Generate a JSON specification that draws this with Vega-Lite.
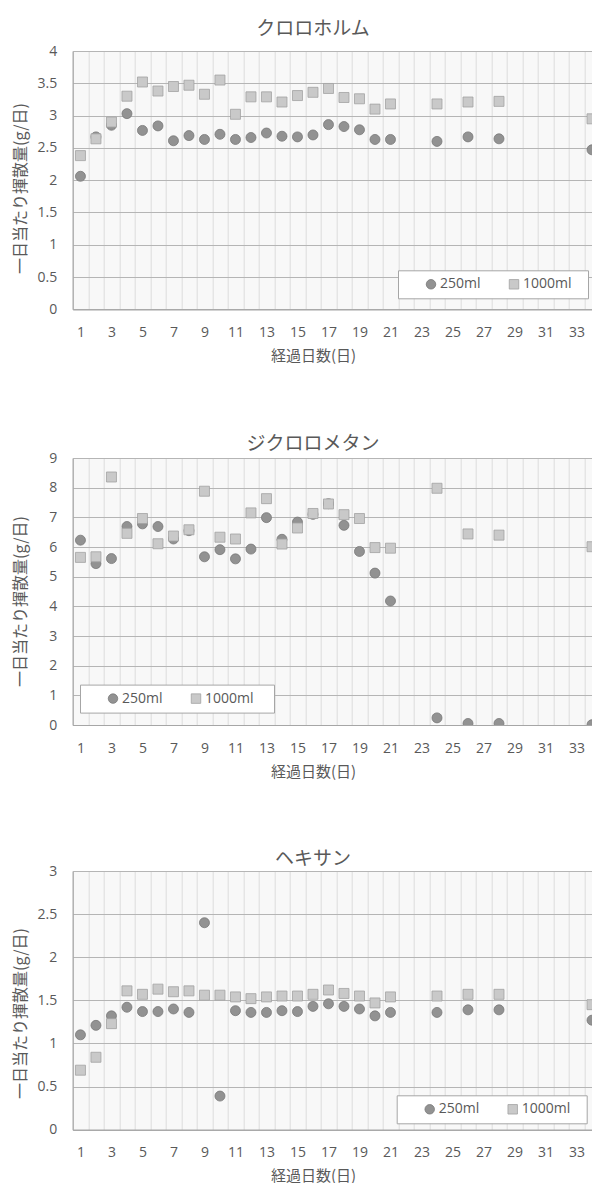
{
  "$schema": "https://vega.github.io/schema/vega-lite/v6.json",
  "background": "white",
  "padding": {"left": 12.7, "top": 20, "right": 0, "bottom": 0},
  "datasets": {
    "pts": [
      {"chem": "クロロホルム", "series": "250ml", "day": 1, "value": 2.06},
      {"chem": "クロロホルム", "series": "250ml", "day": 2, "value": 2.67},
      {"chem": "クロロホルム", "series": "250ml", "day": 3, "value": 2.85},
      {"chem": "クロロホルム", "series": "250ml", "day": 4, "value": 3.03},
      {"chem": "クロロホルム", "series": "250ml", "day": 5, "value": 2.77},
      {"chem": "クロロホルム", "series": "250ml", "day": 6, "value": 2.84},
      {"chem": "クロロホルム", "series": "250ml", "day": 7, "value": 2.61},
      {"chem": "クロロホルム", "series": "250ml", "day": 8, "value": 2.69},
      {"chem": "クロロホルム", "series": "250ml", "day": 9, "value": 2.63},
      {"chem": "クロロホルム", "series": "250ml", "day": 10, "value": 2.71},
      {"chem": "クロロホルム", "series": "250ml", "day": 11, "value": 2.63},
      {"chem": "クロロホルム", "series": "250ml", "day": 12, "value": 2.66},
      {"chem": "クロロホルム", "series": "250ml", "day": 13, "value": 2.73},
      {"chem": "クロロホルム", "series": "250ml", "day": 14, "value": 2.68},
      {"chem": "クロロホルム", "series": "250ml", "day": 15, "value": 2.67},
      {"chem": "クロロホルム", "series": "250ml", "day": 16, "value": 2.70},
      {"chem": "クロロホルム", "series": "250ml", "day": 17, "value": 2.86},
      {"chem": "クロロホルム", "series": "250ml", "day": 18, "value": 2.83},
      {"chem": "クロロホルム", "series": "250ml", "day": 19, "value": 2.78},
      {"chem": "クロロホルム", "series": "250ml", "day": 20, "value": 2.63},
      {"chem": "クロロホルム", "series": "250ml", "day": 21, "value": 2.63},
      {"chem": "クロロホルム", "series": "250ml", "day": 24, "value": 2.60},
      {"chem": "クロロホルム", "series": "250ml", "day": 26, "value": 2.67},
      {"chem": "クロロホルム", "series": "250ml", "day": 28, "value": 2.64},
      {"chem": "クロロホルム", "series": "250ml", "day": 34, "value": 2.47},
      {"chem": "クロロホルム", "series": "1000ml", "day": 1, "value": 2.38},
      {"chem": "クロロホルム", "series": "1000ml", "day": 2, "value": 2.64},
      {"chem": "クロロホルム", "series": "1000ml", "day": 3, "value": 2.90},
      {"chem": "クロロホルム", "series": "1000ml", "day": 4, "value": 3.30},
      {"chem": "クロロホルム", "series": "1000ml", "day": 5, "value": 3.52},
      {"chem": "クロロホルム", "series": "1000ml", "day": 6, "value": 3.38},
      {"chem": "クロロホルム", "series": "1000ml", "day": 7, "value": 3.45},
      {"chem": "クロロホルム", "series": "1000ml", "day": 8, "value": 3.47},
      {"chem": "クロロホルム", "series": "1000ml", "day": 9, "value": 3.33},
      {"chem": "クロロホルム", "series": "1000ml", "day": 10, "value": 3.55},
      {"chem": "クロロホルム", "series": "1000ml", "day": 11, "value": 3.02},
      {"chem": "クロロホルム", "series": "1000ml", "day": 12, "value": 3.29},
      {"chem": "クロロホルム", "series": "1000ml", "day": 13, "value": 3.29},
      {"chem": "クロロホルム", "series": "1000ml", "day": 14, "value": 3.21},
      {"chem": "クロロホルム", "series": "1000ml", "day": 15, "value": 3.31},
      {"chem": "クロロホルム", "series": "1000ml", "day": 16, "value": 3.36},
      {"chem": "クロロホルム", "series": "1000ml", "day": 17, "value": 3.42},
      {"chem": "クロロホルム", "series": "1000ml", "day": 18, "value": 3.28},
      {"chem": "クロロホルム", "series": "1000ml", "day": 19, "value": 3.26},
      {"chem": "クロロホルム", "series": "1000ml", "day": 20, "value": 3.10},
      {"chem": "クロロホルム", "series": "1000ml", "day": 21, "value": 3.18},
      {"chem": "クロロホルム", "series": "1000ml", "day": 24, "value": 3.18},
      {"chem": "クロロホルム", "series": "1000ml", "day": 26, "value": 3.21},
      {"chem": "クロロホルム", "series": "1000ml", "day": 28, "value": 3.22},
      {"chem": "クロロホルム", "series": "1000ml", "day": 34, "value": 2.95},
      {"chem": "ジクロロメタン", "series": "250ml", "day": 1, "value": 6.23},
      {"chem": "ジクロロメタン", "series": "250ml", "day": 2, "value": 5.44},
      {"chem": "ジクロロメタン", "series": "250ml", "day": 3, "value": 5.61},
      {"chem": "ジクロロメタン", "series": "250ml", "day": 4, "value": 6.69},
      {"chem": "ジクロロメタン", "series": "250ml", "day": 5, "value": 6.78},
      {"chem": "ジクロロメタン", "series": "250ml", "day": 6, "value": 6.69},
      {"chem": "ジクロロメタン", "series": "250ml", "day": 7, "value": 6.27},
      {"chem": "ジクロロメタン", "series": "250ml", "day": 8, "value": 6.55},
      {"chem": "ジクロロメタン", "series": "250ml", "day": 9, "value": 5.67},
      {"chem": "ジクロロメタン", "series": "250ml", "day": 10, "value": 5.91},
      {"chem": "ジクロロメタン", "series": "250ml", "day": 11, "value": 5.60},
      {"chem": "ジクロロメタン", "series": "250ml", "day": 12, "value": 5.93},
      {"chem": "ジクロロメタン", "series": "250ml", "day": 13, "value": 6.99},
      {"chem": "ジクロロメタン", "series": "250ml", "day": 14, "value": 6.26},
      {"chem": "ジクロロメタン", "series": "250ml", "day": 15, "value": 6.84},
      {"chem": "ジクロロメタン", "series": "250ml", "day": 16, "value": 7.10},
      {"chem": "ジクロロメタン", "series": "250ml", "day": 17, "value": 7.46},
      {"chem": "ジクロロメタン", "series": "250ml", "day": 18, "value": 6.73},
      {"chem": "ジクロロメタン", "series": "250ml", "day": 19, "value": 5.85},
      {"chem": "ジクロロメタン", "series": "250ml", "day": 20, "value": 5.12},
      {"chem": "ジクロロメタン", "series": "250ml", "day": 21, "value": 4.18},
      {"chem": "ジクロロメタン", "series": "250ml", "day": 24, "value": 0.24},
      {"chem": "ジクロロメタン", "series": "250ml", "day": 26, "value": 0.05},
      {"chem": "ジクロロメタン", "series": "250ml", "day": 28, "value": 0.05},
      {"chem": "ジクロロメタン", "series": "250ml", "day": 34, "value": 0.01},
      {"chem": "ジクロロメタン", "series": "1000ml", "day": 1, "value": 5.65},
      {"chem": "ジクロロメタン", "series": "1000ml", "day": 2, "value": 5.67},
      {"chem": "ジクロロメタン", "series": "1000ml", "day": 3, "value": 8.36},
      {"chem": "ジクロロメタン", "series": "1000ml", "day": 4, "value": 6.46},
      {"chem": "ジクロロメタン", "series": "1000ml", "day": 5, "value": 6.96},
      {"chem": "ジクロロメタン", "series": "1000ml", "day": 6, "value": 6.11},
      {"chem": "ジクロロメタン", "series": "1000ml", "day": 7, "value": 6.37},
      {"chem": "ジクロロメタン", "series": "1000ml", "day": 8, "value": 6.58},
      {"chem": "ジクロロメタン", "series": "1000ml", "day": 9, "value": 7.88},
      {"chem": "ジクロロメタン", "series": "1000ml", "day": 10, "value": 6.33},
      {"chem": "ジクロロメタン", "series": "1000ml", "day": 11, "value": 6.27},
      {"chem": "ジクロロメタン", "series": "1000ml", "day": 12, "value": 7.15},
      {"chem": "ジクロロメタン", "series": "1000ml", "day": 13, "value": 7.63},
      {"chem": "ジクロロメタン", "series": "1000ml", "day": 14, "value": 6.10},
      {"chem": "ジクロロメタン", "series": "1000ml", "day": 15, "value": 6.64},
      {"chem": "ジクロロメタン", "series": "1000ml", "day": 16, "value": 7.13},
      {"chem": "ジクロロメタン", "series": "1000ml", "day": 17, "value": 7.45},
      {"chem": "ジクロロメタン", "series": "1000ml", "day": 18, "value": 7.09},
      {"chem": "ジクロロメタン", "series": "1000ml", "day": 19, "value": 6.96},
      {"chem": "ジクロロメタン", "series": "1000ml", "day": 20, "value": 5.98},
      {"chem": "ジクロロメタン", "series": "1000ml", "day": 21, "value": 5.96},
      {"chem": "ジクロロメタン", "series": "1000ml", "day": 24, "value": 7.98},
      {"chem": "ジクロロメタン", "series": "1000ml", "day": 26, "value": 6.44},
      {"chem": "ジクロロメタン", "series": "1000ml", "day": 28, "value": 6.40},
      {"chem": "ジクロロメタン", "series": "1000ml", "day": 34, "value": 6.01},
      {"chem": "ヘキサン", "series": "250ml", "day": 1, "value": 1.10},
      {"chem": "ヘキサン", "series": "250ml", "day": 2, "value": 1.21},
      {"chem": "ヘキサン", "series": "250ml", "day": 3, "value": 1.32},
      {"chem": "ヘキサン", "series": "250ml", "day": 4, "value": 1.42},
      {"chem": "ヘキサン", "series": "250ml", "day": 5, "value": 1.37},
      {"chem": "ヘキサン", "series": "250ml", "day": 6, "value": 1.37},
      {"chem": "ヘキサン", "series": "250ml", "day": 7, "value": 1.40},
      {"chem": "ヘキサン", "series": "250ml", "day": 8, "value": 1.36},
      {"chem": "ヘキサン", "series": "250ml", "day": 9, "value": 2.40},
      {"chem": "ヘキサン", "series": "250ml", "day": 10, "value": 0.39},
      {"chem": "ヘキサン", "series": "250ml", "day": 11, "value": 1.38},
      {"chem": "ヘキサン", "series": "250ml", "day": 12, "value": 1.36},
      {"chem": "ヘキサン", "series": "250ml", "day": 13, "value": 1.36},
      {"chem": "ヘキサン", "series": "250ml", "day": 14, "value": 1.38},
      {"chem": "ヘキサン", "series": "250ml", "day": 15, "value": 1.37},
      {"chem": "ヘキサン", "series": "250ml", "day": 16, "value": 1.43},
      {"chem": "ヘキサン", "series": "250ml", "day": 17, "value": 1.46},
      {"chem": "ヘキサン", "series": "250ml", "day": 18, "value": 1.43},
      {"chem": "ヘキサン", "series": "250ml", "day": 19, "value": 1.40},
      {"chem": "ヘキサン", "series": "250ml", "day": 20, "value": 1.32},
      {"chem": "ヘキサン", "series": "250ml", "day": 21, "value": 1.36},
      {"chem": "ヘキサン", "series": "250ml", "day": 24, "value": 1.36},
      {"chem": "ヘキサン", "series": "250ml", "day": 26, "value": 1.39},
      {"chem": "ヘキサン", "series": "250ml", "day": 28, "value": 1.39},
      {"chem": "ヘキサン", "series": "250ml", "day": 34, "value": 1.27},
      {"chem": "ヘキサン", "series": "1000ml", "day": 1, "value": 0.69},
      {"chem": "ヘキサン", "series": "1000ml", "day": 2, "value": 0.84},
      {"chem": "ヘキサン", "series": "1000ml", "day": 3, "value": 1.23},
      {"chem": "ヘキサン", "series": "1000ml", "day": 4, "value": 1.61},
      {"chem": "ヘキサン", "series": "1000ml", "day": 5, "value": 1.57},
      {"chem": "ヘキサン", "series": "1000ml", "day": 6, "value": 1.63},
      {"chem": "ヘキサン", "series": "1000ml", "day": 7, "value": 1.60},
      {"chem": "ヘキサン", "series": "1000ml", "day": 8, "value": 1.61},
      {"chem": "ヘキサン", "series": "1000ml", "day": 9, "value": 1.56},
      {"chem": "ヘキサン", "series": "1000ml", "day": 10, "value": 1.56},
      {"chem": "ヘキサン", "series": "1000ml", "day": 11, "value": 1.54},
      {"chem": "ヘキサン", "series": "1000ml", "day": 12, "value": 1.52},
      {"chem": "ヘキサン", "series": "1000ml", "day": 13, "value": 1.54},
      {"chem": "ヘキサン", "series": "1000ml", "day": 14, "value": 1.55},
      {"chem": "ヘキサン", "series": "1000ml", "day": 15, "value": 1.55},
      {"chem": "ヘキサン", "series": "1000ml", "day": 16, "value": 1.57},
      {"chem": "ヘキサン", "series": "1000ml", "day": 17, "value": 1.62},
      {"chem": "ヘキサン", "series": "1000ml", "day": 18, "value": 1.58},
      {"chem": "ヘキサン", "series": "1000ml", "day": 19, "value": 1.55},
      {"chem": "ヘキサン", "series": "1000ml", "day": 20, "value": 1.47},
      {"chem": "ヘキサン", "series": "1000ml", "day": 21, "value": 1.54},
      {"chem": "ヘキサン", "series": "1000ml", "day": 24, "value": 1.55},
      {"chem": "ヘキサン", "series": "1000ml", "day": 26, "value": 1.57},
      {"chem": "ヘキサン", "series": "1000ml", "day": 28, "value": 1.57},
      {"chem": "ヘキサン", "series": "1000ml", "day": 34, "value": 1.45}
    ]
  },
  "data": {"name": "pts"},
  "spacing": 70,
  "resolve": {"scale": {"color": "independent", "shape": "independent", "stroke": "independent"}},
  "vconcat": [
    {
      "width": 519.3,
      "height": 258.3,
      "title": {"text": "クロロホルム", "offset": 5, "dx": -19.4},
      "transform": [{"filter": "datum.chem == 'クロロホルム'"}],
      "mark": {"type": "point", "filled": true, "clip": true, "opacity": 1, "size": 100, "strokeWidth": 0.8},
      "encoding": {
        "x": {"field": "day", "type": "quantitative", "scale": {"domain": [0.5, 34], "nice": false, "zero": false},
          "axis": {"title": "経過日数(日)", "values": [0.5,1.5,2.5,3.5,4.5,5.5,6.5,7.5,8.5,9.5,10.5,11.5,12.5,13.5,14.5,15.5,16.5,17.5,18.5,19.5,20.5,21.5,22.5,23.5,24.5,25.5,26.5,27.5,28.5,29.5,30.5,31.5,32.5,33.5],
            "labelExpr": "(datum.value + 0.5) % 2 == 1 ? '' + (datum.value + 0.5) : ''", "labelOffset": 7.75, "titleX": 240.3}},
        "y": {"field": "value", "type": "quantitative", "scale": {"domain": [0, 4], "nice": false},
          "axis": {"title": "一日当たり揮散量(g/日)", "values": [0,0.5,1,1.5,2,2.5,3,3.5,4], "titleY": 137}},
        "color": {"field": "series", "type": "nominal", "scale": {"domain": ["250ml", "1000ml"], "range": ["#929292", "#c9c9c9"]},
          "legend": {"orient": "none", "legendX": 325.3, "legendY": 219.3, "title": "\u00a0", "titleOrient": "right", "titleFontSize": 8, "titlePadding": 9}},
        "stroke": {"field": "series", "type": "nominal", "scale": {"domain": ["250ml", "1000ml"], "range": ["#787878", "#a2a2a2"]}},
        "shape": {"field": "series", "type": "nominal", "scale": {"domain": ["250ml", "1000ml"], "range": ["circle", "square"]}}
      }
    },
    {
      "width": 519.3,
      "height": 267,
      "title": {"text": "ジクロロメタン", "offset": -2.5, "dx": -19.4},
      "transform": [{"filter": "datum.chem == 'ジクロロメタン'"}],
      "mark": {"type": "point", "filled": true, "clip": true, "opacity": 1, "size": 100, "strokeWidth": 0.8},
      "encoding": {
        "x": {"field": "day", "type": "quantitative", "scale": {"domain": [0.5, 34], "nice": false, "zero": false},
          "axis": {"title": "経過日数(日)", "values": [0.5,1.5,2.5,3.5,4.5,5.5,6.5,7.5,8.5,9.5,10.5,11.5,12.5,13.5,14.5,15.5,16.5,17.5,18.5,19.5,20.5,21.5,22.5,23.5,24.5,25.5,26.5,27.5,28.5,29.5,30.5,31.5,32.5,33.5],
            "labelExpr": "(datum.value + 0.5) % 2 == 1 ? '' + (datum.value + 0.5) : ''", "labelOffset": 7.75, "titleX": 240.3}},
        "y": {"field": "value", "type": "quantitative", "scale": {"domain": [0, 9], "nice": false},
          "axis": {"title": "一日当たり揮散量(g/日)", "values": [0,1,2,3,4,5,6,7,8,9], "titleY": 143}},
        "color": {"field": "series", "type": "nominal", "scale": {"domain": ["250ml", "1000ml"], "range": ["#929292", "#c9c9c9"]},
          "legend": {"orient": "none", "legendX": 7.3, "legendY": 226.6, "title": "\u00a0", "titleOrient": "right", "titleFontSize": 8, "titlePadding": 13}},
        "stroke": {"field": "series", "type": "nominal", "scale": {"domain": ["250ml", "1000ml"], "range": ["#787878", "#a2a2a2"]}},
        "shape": {"field": "series", "type": "nominal", "scale": {"domain": ["250ml", "1000ml"], "range": ["circle", "square"]}}
      }
    },
    {
      "width": 519.3,
      "height": 258.7,
      "title": {"text": "ヘキサン", "offset": -4.5, "dx": -19.4},
      "transform": [{"filter": "datum.chem == 'ヘキサン'"}],
      "mark": {"type": "point", "filled": true, "clip": true, "opacity": 1, "size": 100, "strokeWidth": 0.8},
      "encoding": {
        "x": {"field": "day", "type": "quantitative", "scale": {"domain": [0.5, 34], "nice": false, "zero": false},
          "axis": {"title": "経過日数(日)", "values": [0.5,1.5,2.5,3.5,4.5,5.5,6.5,7.5,8.5,9.5,10.5,11.5,12.5,13.5,14.5,15.5,16.5,17.5,18.5,19.5,20.5,21.5,22.5,23.5,24.5,25.5,26.5,27.5,28.5,29.5,30.5,31.5,32.5,33.5],
            "labelExpr": "(datum.value + 0.5) % 2 == 1 ? '' + (datum.value + 0.5) : ''", "labelOffset": 7.75, "titleX": 240.3}},
        "y": {"field": "value", "type": "quantitative", "scale": {"domain": [0, 3], "nice": false},
          "axis": {"title": "一日当たり揮散量(g/日)", "values": [0,0.5,1,1.5,2,2.5,3], "titleY": 142}},
        "color": {"field": "series", "type": "nominal", "scale": {"domain": ["250ml", "1000ml"], "range": ["#929292", "#c9c9c9"]},
          "legend": {"orient": "none", "legendX": 324, "legendY": 224.3, "title": "\u00a0", "titleOrient": "right", "titleFontSize": 8, "titlePadding": 9}},
        "stroke": {"field": "series", "type": "nominal", "scale": {"domain": ["250ml", "1000ml"], "range": ["#787878", "#a2a2a2"]}},
        "shape": {"field": "series", "type": "nominal", "scale": {"domain": ["250ml", "1000ml"], "range": ["circle", "square"]}}
      }
    }
  ],
  "config": {
    "view": {"fill": "#f8f8f8", "stroke": null},
    "title": {"font": "Noto Sans CJK JP", "fontSize": 19, "fontWeight": "normal", "color": "#595959", "anchor": "middle"},
    "axis": {
      "ticks": false, "tickSize": 0, "domain": true, "domainColor": "#a6a6a6", "domainWidth": 1.2,
      "labelFont": "Open Sans", "labelFontSize": 14, "labelColor": "#595959", "labelPadding": 16,
      "labelFlush": false, "labelOverlap": false, "format": "~g",
      "titleFont": "Noto Sans CJK JP", "titleFontSize": 16, "titleFontWeight": "normal", "titleColor": "#595959",
      "grid": true
    },
    "axisX": {"gridColor": "#dcdcdc", "gridWidth": 1, "labelPadding": 16, "titlePadding": 9, "titleFontSize": 15},
    "axisY": {"gridColor": "#b5b5b5", "gridWidth": 1.2, "minExtent": 36, "maxExtent": 36, "titlePadding": 8},
    "legend": {
      "direction": "horizontal",
      "fillColor": "white", "strokeColor": "#a6a6a6",
      "padding": 7, "symbolOffset": 19, "columnPadding": 7, "labelOffset": 2,
      "labelFont": "Open Sans", "labelFontSize": 14, "labelColor": "#595959",
      "symbolSize": 90, "symbolStrokeWidth": 0.8
    }
  }
}
